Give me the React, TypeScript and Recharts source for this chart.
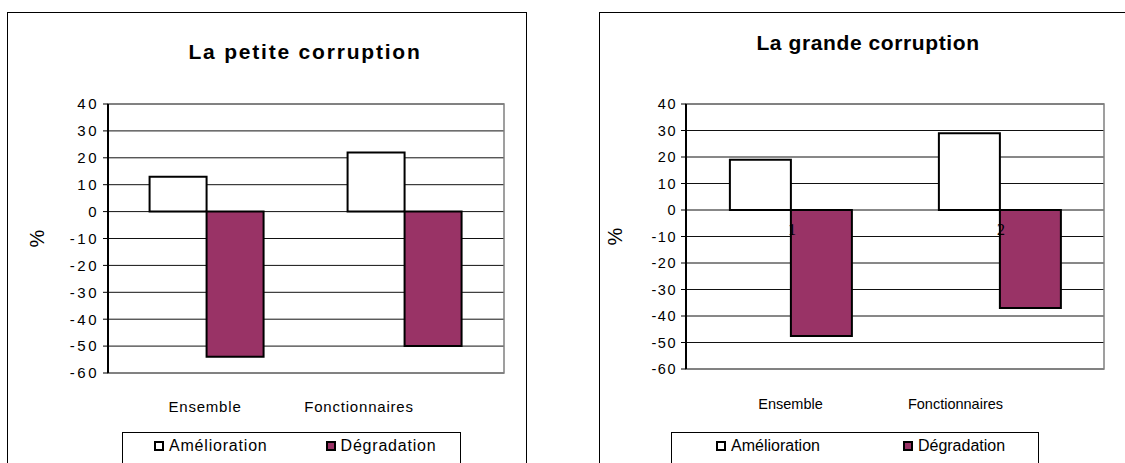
import {
  BarChart,
  Bar,
  XAxis,
  YAxis,
  CartesianGrid,
  Legend,
  ReferenceArea,
  LabelList,
} from 'recharts'

const categories = ['Ensemble', 'Fonctionnaires']
const seriesNames = ['Amélioration', 'Dégradation']
const petiteAmelioration = [13, 22]
const petiteDegradation = [-54, -50]
const grandeAmelioration = [19, 29]
const grandeDegradation = [-47.5, -37]
const grandeTickNumbers = ['1', '2']
const yTicks = [40, 30, 20, 10, 0, -10, -20, -30, -40, -50, -60]

const FONT = '"Liberation Sans", Arial, sans-serif'
const PURPLE = '#993366'

type Row = { name: string; amelioration: number; degradation: number; num?: string }

type PanelProps = {
  title: string
  rows: Row[]
  left: number
  width: number
  marginRight: number
  marginBottom: number
  titleCenter: number
  titleTop: number
  titleSpacing: number
  tickSize: number
  tickSpacing: number
  labelSize: number
  labelSpacing: number
  labelBaseline: number
  labelShift: number[]
  legendLeft: number
  legendWidth: number
  legendPad: number
  legendGap: number
  legendSpacing: number
  showNumbers: boolean
}

function LegendBox({ payload, pad, gap, spacing }: { payload?: any[]; pad: number; gap: number; spacing: number }) {
  return (
    <div
      style={{
        boxSizing: 'border-box',
        border: '1px solid #000',
        height: 40,
        display: 'flex',
        alignItems: 'flex-start',
        paddingLeft: pad,
        paddingTop: 3,
        gap,
        fontFamily: FONT,
        fontSize: 16,
        letterSpacing: spacing,
        color: '#000',
        background: '#fff',
      }}
    >
      {(payload ?? []).map((p) => (
        <div key={p.value} style={{ display: 'flex', alignItems: 'center', gap: 5, lineHeight: '20px' }}>
          <span
            style={{
              display: 'inline-block',
              boxSizing: 'border-box',
              width: 10,
              height: 10,
              border: '2px solid #000',
              background: p.color,
            }}
          />
          <span>{p.value}</span>
        </div>
      ))}
    </div>
  )
}

function Panel(props: PanelProps) {
  const { rows } = props
  const chartHeight = 463

  const renderTick = (t: any) => (
    <text
      x={t.x + props.labelShift[t.index]}
      y={t.y + props.labelBaseline}
      textAnchor="middle"
      fontFamily={FONT}
      fontSize={props.labelSize}
      letterSpacing={props.labelSpacing}
      fill="#000"
    >
      {t.payload.value}
    </text>
  )

  const renderNumber = (l: any) => (
    <text
      x={l.x + l.width + 1}
      y={l.y + l.height + 25}
      textAnchor="middle"
      fontFamily='"Liberation Serif", "Times New Roman", serif'
      fontSize={16}
      fill="#000"
    >
      {l.value}
    </text>
  )

  return (
    <>
      <div
        style={{
          position: 'absolute',
          left: props.titleCenter - 200,
          top: props.titleTop,
          width: 400,
          textAlign: 'center',
          fontFamily: FONT,
          fontWeight: 700,
          fontSize: 21,
          lineHeight: '21px',
          letterSpacing: props.titleSpacing,
          color: '#000',
          zIndex: 2,
        }}
      >
        {props.title}
      </div>
      <div style={{ position: 'absolute', left: props.left, top: 0 }}>
        <BarChart
          width={props.width}
          height={chartHeight}
          data={rows}
          margin={{ top: 104, right: props.marginRight, left: 28, bottom: props.marginBottom }}
          barCategoryGap="21%"
          barGap={0}
        >
          <CartesianGrid vertical={false} stroke="#111" />
          <ReferenceArea y1={-60} y2={40} fill="none" stroke="#808080" strokeWidth={1.5} />
          <XAxis
            dataKey="name"
            axisLine={false}
            tickLine={false}
            height={40}
            interval={0}
            tick={renderTick}
          />
          <YAxis
            type="number"
            domain={[-60, 40]}
            ticks={yTicks}
            interval={0}
            width={80}
            tickSize={5}
            tickMargin={4}
            axisLine={{ stroke: '#000', strokeWidth: 2 }}
            tickLine={{ stroke: '#000' }}
            tick={{ fontSize: props.tickSize, fill: '#000', fontFamily: FONT, letterSpacing: props.tickSpacing }}
            label={{
              content: ({ viewBox }: any) => (
                <text
                  x={viewBox.x + 9}
                  y={viewBox.y + viewBox.height / 2}
                  transform={`rotate(-90 ${viewBox.x + 9} ${viewBox.y + viewBox.height / 2})`}
                  textAnchor="middle"
                  dominantBaseline="central"
                  fontFamily={FONT}
                  fontSize={20}
                  fill="#000"
                >
                  %
                </text>
              ),
            }}
          />
          <Legend
            layout="horizontal"
            align="center"
            verticalAlign="middle"
            wrapperStyle={{ left: props.legendLeft, top: 432, width: props.legendWidth, height: 40 }}
            content={(lp: any) => (
              <LegendBox payload={lp.payload} pad={props.legendPad} gap={props.legendGap} spacing={props.legendSpacing} />
            )}
          />
          <Bar
            dataKey="amelioration"
            name={seriesNames[0]}
            fill="#FFFFFF"
            stroke="#000"
            strokeWidth={2}
            isAnimationActive={false}
          >
            {props.showNumbers && <LabelList dataKey="num" content={renderNumber} />}
          </Bar>
          <Bar
            dataKey="degradation"
            name={seriesNames[1]}
            fill={PURPLE}
            stroke="#000"
            strokeWidth={2}
            isAnimationActive={false}
          />
        </BarChart>
      </div>
    </>
  )
}

export default function App() {
  const petiteRows: Row[] = categories.map((name, i) => ({
    name,
    amelioration: petiteAmelioration[i],
    degradation: petiteDegradation[i],
  }))
  const grandeRows: Row[] = categories.map((name, i) => ({
    name,
    amelioration: grandeAmelioration[i],
    degradation: grandeDegradation[i],
    num: grandeTickNumbers[i],
  }))

  return (
    <div
      style={{
        position: 'absolute',
        left: 0,
        top: 0,
        width: 1125,
        height: 463,
        overflow: 'hidden',
        background: '#fff',
      }}
    >
      {/* panel frames */}
      <div
        style={{
          position: 'absolute',
          left: 7,
          top: 12,
          width: 520,
          height: 470,
          boxSizing: 'border-box',
          border: '1px solid #000',
        }}
      />
      <div
        style={{
          position: 'absolute',
          left: 599,
          top: 12,
          width: 600,
          height: 470,
          boxSizing: 'border-box',
          border: '1px solid #000',
        }}
      />

      <Panel
        title="La petite corruption"
        rows={petiteRows}
        left={0}
        width={530}
        marginRight={26}
        marginBottom={50}
        titleCenter={305}
        titleTop={41}
        titleSpacing={1.8}
        tickSize={15}
        tickSpacing={2.5}
        labelSize={15}
        labelSpacing={0.8}
        labelBaseline={31}
        labelShift={[-2, -46]}
        legendLeft={122}
        legendWidth={339}
        legendPad={31}
        legendGap={58}
        legendSpacing={0.8}
        showNumbers={false}
      />
      <Panel
        title="La grande corruption"
        rows={grandeRows}
        left={578}
        width={547}
        marginRight={21}
        marginBottom={54}
        titleCenter={868}
        titleTop={32}
        titleSpacing={0.6}
        tickSize={14.5}
        tickSpacing={1.5}
        labelSize={14.5}
        labelSpacing={0}
        labelBaseline={32}
        labelShift={[0, -44]}
        legendLeft={93}
        legendWidth={368}
        legendPad={44}
        legendGap={83}
        legendSpacing={0}
        showNumbers={true}
      />
    </div>
  )
}
